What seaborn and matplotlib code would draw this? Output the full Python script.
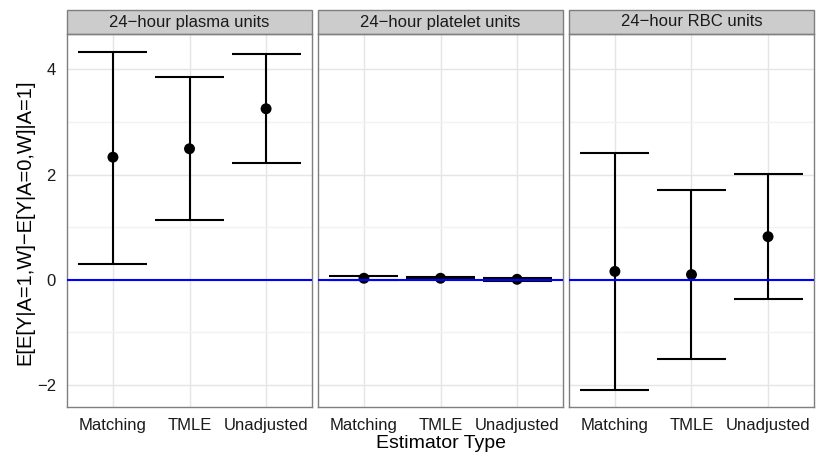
import numpy as np
import pandas as pd
import seaborn as sns
import matplotlib.pyplot as plt
from matplotlib.patches import Rectangle

# Facets, estimator categories and y-axis ticks
outcomes = ["24−hour plasma units", "24−hour platelet units", "24−hour RBC units"]
estimators = ["Matching", "TMLE", "Unadjusted"]
y_ticks = [-2, 0, 2, 4]
y_minor = [-1, 1, 3]

# Point estimates and confidence limits per outcome
plasma_est = [2.33, 2.49, 3.25]
plasma_lower = [0.30, 1.14, 2.21]
plasma_upper = [4.33, 3.86, 4.29]

platelet_est = [0.03, 0.03, 0.01]
platelet_lower = [-0.01, 0.01, -0.02]
platelet_upper = [0.08, 0.06, 0.04]

rbc_est = [0.16, 0.10, 0.82]
rbc_lower = [-2.09, -1.50, -0.37]
rbc_upper = [2.40, 1.71, 2.01]

frames = []
for name, est, lo, hi in [
    (outcomes[0], plasma_est, plasma_lower, plasma_upper),
    (outcomes[1], platelet_est, platelet_lower, platelet_upper),
    (outcomes[2], rbc_est, rbc_lower, rbc_upper),
]:
    frames.append(pd.DataFrame({"outcome": name, "estimator": estimators,
                                "estimate": est, "lower": lo, "upper": hi}))
df = pd.concat(frames, ignore_index=True)

sns.set_theme(style="white")
plt.rcParams["font.family"] = ["Liberation Sans", "DejaVu Sans"]
plt.rcParams["axes.unicode_minus"] = True

GREY50 = "#7F7F7F"
pos = {e: i for i, e in enumerate(estimators)}


def draw_intervals(data, **kws):
    ax = plt.gca()
    x = data["estimator"].map(pos).to_numpy(dtype=float)
    ax.vlines(x, data["lower"], data["upper"], color="black", lw=1.5, zorder=3)
    ax.hlines(data["lower"], x - 0.45, x + 0.45, color="black", lw=1.5, zorder=3)
    ax.hlines(data["upper"], x - 0.45, x + 0.45, color="black", lw=1.5, zorder=3)
    sns.scatterplot(x=x, y=data["estimate"].to_numpy(), ax=ax, color="black",
                    s=62, edgecolor="none", linewidth=0, zorder=4, legend=False)
    ax.axhline(0, color="blue", lw=1.5, zorder=5)


g = sns.FacetGrid(df, col="outcome", col_order=outcomes, sharey=True, sharex=True,
                  despine=False, height=4, aspect=0.7)
g.map_dataframe(draw_intervals)
fig = g.figure
fig.set_size_inches(8.19, 4.58)
fig.subplots_adjust(left=67 / 819, right=814 / 819, bottom=(458 - 406.7) / 458,
                    top=(458 - 34) / 458, wspace=6 / 247)
g.set_titles("")

strip_h = 24 / 372.7
for ax, title in zip(g.axes.flat, outcomes):
    ax.set_xlim(-0.6, 2.6)
    ax.set_ylim(-2.41, 4.67)
    ax.set_xticks(range(len(estimators)))
    ax.set_xticklabels(estimators)
    ax.set_yticks(y_ticks)
    ax.set_yticklabels([str(t).replace("-", "−") for t in y_ticks])
    ax.set_yticks(y_minor, minor=True)
    ax.set_axisbelow(True)
    ax.grid(True, which="major", color="#E5E5E5", lw=1.0)
    ax.grid(True, which="minor", axis="y", color="#F2F2F2", lw=1.0)
    ax.tick_params(axis="both", which="major", direction="out", length=4.5,
                   width=0.8, color=GREY50, labelsize=12, labelcolor="#1a1a1a", pad=3.5)
    ax.tick_params(axis="both", which="minor", length=0)
    for sp in ax.spines.values():
        sp.set_color(GREY50)
        sp.set_linewidth(1.0)
    ax.set_xlabel("")
    ax.set_ylabel("")
    strip = Rectangle((0, 1), 1, strip_h, transform=ax.transAxes, facecolor="#CCCCCC",
                      edgecolor=GREY50, lw=1.0, clip_on=False, zorder=1)
    ax.add_patch(strip)
    ax.text(0.5, 1 + strip_h / 2, title, transform=ax.transAxes, ha="center",
            va="center", fontsize=12, color="#1a1a1a")

for ax in g.axes.flat[1:]:
    ax.tick_params(axis="y", labelleft=False, length=0)

fig.text(440.5 / 819, 1 - 444 / 458, "Estimator Type", ha="center", va="center",
         fontsize=14, color="black")
fig.text(24.5 / 819, 1 - 222 / 458, "E[E[Y|A=1,W]−E[Y|A=0,W]|A=1]", ha="center",
         va="center", rotation=90, fontsize=14.5, color="black")

fig.savefig("out.png", dpi=100)
